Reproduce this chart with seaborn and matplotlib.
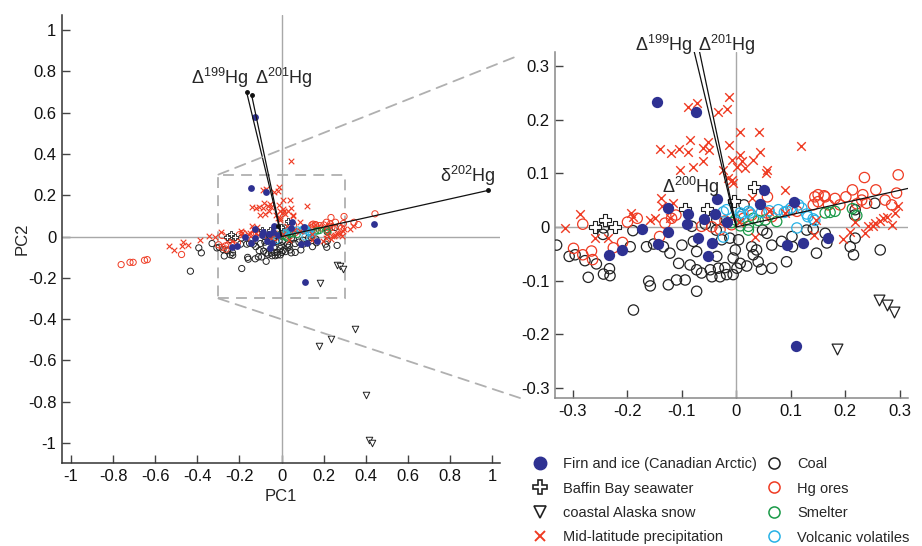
import numpy as np
import pandas as pd
import matplotlib
matplotlib.use('Agg')
import matplotlib.pyplot as plt
import seaborn as sns
from matplotlib.lines import Line2D
from matplotlib.patches import ConnectionPatch, Rectangle

sns.set_style('ticks')
plt.rcParams['font.family'] = ['Liberation Sans', 'DejaVu Sans']
plt.rcParams['mathtext.fontset'] = 'custom'
plt.rcParams['mathtext.rm'] = 'Liberation Sans'
plt.rcParams['mathtext.it'] = 'Liberation Sans'
plt.rcParams['mathtext.default'] = 'regular'

# ---------------- data ----------------
firn_x = [-0.146, -0.075, -0.125, -0.036, -0.088, -0.039, -0.059, -0.018, -0.091, -0.174, -0.125, -0.070,
          -0.045, -0.144, -0.210, -0.234, -0.053, 0.051, 0.043, 0.105, 0.092, 0.123, 0.169, 0.110, 0.440, -0.128]
firn_y = [0.233, 0.215, 0.035, 0.052, 0.024, 0.024, 0.014, 0.009, 0.005, -0.004, -0.009, -0.021,
          -0.030, -0.032, -0.044, -0.052, -0.054, 0.068, 0.043, 0.047, -0.034, -0.030, -0.021, -0.222, 0.062, 0.578]

baffin_x = [-0.259, -0.241, -0.223, -0.094, -0.054, -0.004, 0.032]
baffin_y = [-0.001, 0.013, -0.001, 0.034, 0.034, 0.048, 0.075]

alaska_x = [0.262, 0.276, 0.290, 0.185, 0.349, 0.234, 0.180, 0.400, 0.417, 0.428]
alaska_y = [-0.136, -0.145, -0.159, -0.227, -0.448, -0.497, -0.529, -0.767, -0.985, -1.001]

midlat_x = [-0.088, -0.072, -0.034, -0.017, -0.013, -0.140, -0.120, -0.105, -0.088, -0.085, -0.062, -0.053,
            -0.051, -0.013, -0.061, -0.079, -0.103, -0.009, -0.024, -0.015, -0.006, 0.007, 0.042, 0.119,
            0.043, 0.007, 0.010, 0.031, 0.016, 0.001, 0.056, 0.054, -0.009, 0.089, 0.028,
            -0.288, -0.259, -0.235, -0.194, -0.189, -0.158, -0.150, -0.139, -0.117, -0.122, -0.136,
            0.034, 0.143, 0.196, 0.209, 0.218, 0.236, 0.242, 0.254, 0.264, 0.270, 0.276, 0.285, 0.291,
            0.297, 0.251, 0.147, 0.005, 0.060, 0.090,
            -0.536, -0.512, -0.475, -0.469, -0.444, -0.385, -0.346, -0.314, 0.046, 0.326, 0.341]
midlat_y = [0.224, 0.230, 0.215, 0.219, 0.242, 0.145, 0.137, 0.145, 0.140, 0.162, 0.147, 0.159,
            0.143, 0.153, 0.122, 0.111, 0.106, 0.125, 0.106, 0.091, 0.081, 0.176, 0.176, 0.150,
            0.140, 0.134, 0.122, 0.124, 0.109, 0.112, 0.106, 0.100, 0.088, 0.069, 0.053,
            0.024, -0.020, -0.020, 0.025, 0.019, 0.012, 0.016, 0.053, 0.044, 0.016, 0.038,
            -0.018, -0.015, -0.022, -0.009, 0.010, -0.012, 0.001, 0.007, 0.011, 0.016, 0.019, 0.004, 0.026,
            0.038, 0.001, 0.013, 0.010, 0.030, 0.025,
            -0.047, -0.063, -0.047, -0.028, -0.039, -0.018, 0.001, -0.002, 0.366, 0.037, 0.050]

coal_x = [-0.296, -0.278, -0.257, -0.272, -0.244, -0.232, -0.233, -0.245, -0.244, -0.190, -0.195, -0.165,
          -0.152, -0.134, -0.122, -0.100, -0.079, -0.073, -0.106, -0.085, -0.073, -0.064, -0.045, -0.033,
          -0.030, -0.018, -0.021, -0.006, -0.094, -0.110, -0.125, -0.161, -0.158, -0.073, -0.189, -0.037,
          -0.036, -0.036, -0.027, -0.082, -0.057, -0.048,
          0.004, -0.012, -0.002, -0.006, 0.007, 0.019, 0.001, 0.028, 0.037, 0.031, 0.040, 0.046, 0.065,
          0.065, 0.048, 0.056, 0.083, 0.092, 0.102, 0.103, 0.129, 0.141, 0.147, 0.166, 0.163, 0.209,
          0.215, 0.218, 0.217, 0.218, 0.264, 0.254, 0.014,
          -0.433, -0.393, -0.381, -0.330, -0.307]
coal_y = [-0.052, -0.063, -0.069, -0.094, -0.088, -0.091, -0.078, -0.014, -0.002, -0.007, -0.037, -0.037,
          -0.032, -0.037, -0.049, -0.034, -0.027, -0.046, -0.068, -0.071, -0.080, -0.086, -0.093, -0.077,
          -0.093, -0.089, -0.076, -0.089, -0.099, -0.099, -0.108, -0.101, -0.110, -0.120, -0.155, -0.006,
          -0.055, 0.013, -0.024, 0.001, 0.005, -0.080,
          -0.024, -0.021, -0.043, -0.058, -0.068, -0.073, -0.077, -0.037, -0.043, -0.052, -0.065, -0.079, -0.077,
          -0.034, -0.006, -0.012, -0.027, -0.065, -0.018, -0.037, -0.006, -0.004, -0.049, -0.030, -0.012, -0.037,
          -0.052, -0.021, 0.022, 0.032, -0.043, 0.044, 0.041,
          -0.168, -0.055, -0.079, -0.034, -0.055]

hg_x = [-0.762, -0.720, -0.705, -0.651, -0.638, -0.475, 0.444, 0.365, 0.344,
        -0.282, -0.299, -0.282, -0.266, -0.264, -0.226, -0.209, -0.200, -0.182, -0.141, -0.119, -0.111,
        -0.131, -0.064, -0.021, -0.009, -0.030, -0.045,
        0.297, 0.235, 0.213, 0.256, 0.232, 0.201, 0.181, 0.163, 0.144, 0.057, 0.294, 0.285, 0.239,
        0.221, 0.190, 0.169, 0.150, 0.141, 0.150, 0.161, 0.273, 0.230, 0.102, 0.111, 0.028, 0.013,
        0.056, 0.065]
hg_y = [-0.136, -0.125, -0.125, -0.115, -0.112, -0.087, 0.110, 0.058, 0.069,
        0.005, -0.040, -0.052, -0.045, -0.061, -0.039, -0.029, 0.009, 0.016, -0.018, 0.016, 0.022,
        0.007, 0.001, 0.011, 0.004, -0.005, 0.000,
        0.097, 0.092, 0.069, 0.069, 0.060, 0.056, 0.053, 0.056, 0.056, 0.056, 0.063, 0.041, 0.044,
        0.043, 0.041, 0.041, 0.047, 0.041, 0.060, 0.058, 0.050, 0.050, 0.032, 0.029, 0.022, 0.016,
        0.026, 0.019]

smelter_x = [-0.009, -0.002, 0.007, 0.022, 0.022, 0.031, 0.040, 0.053, 0.074, 0.163, 0.172, 0.181, 0.213, 0.221]
smelter_y = [0.008, 0.013, 0.002, 0.001, -0.006, 0.016, 0.012, 0.013, 0.010, 0.026, 0.027, 0.029, 0.034, 0.021]

volc_x = [0.007, 0.022, 0.077, 0.092, 0.114, 0.120, 0.131, 0.141, 0.111, -0.024, -0.024, 0.007, 0.025,
          0.046, 0.088, 0.129, 0.144, 0.012, -0.018, 0.060, 0.100]
volc_y = [0.026, 0.029, 0.032, 0.029, 0.041, 0.035, 0.019, 0.015, -0.002, 0.028, -0.019, 0.019, 0.026,
          0.027, 0.027, 0.024, 0.012, 0.024, 0.032, 0.030, 0.035]

# loading vectors
vec_labels = [r'$\Delta^{199}$Hg', r'$\Delta^{201}$Hg', r'$\delta^{202}$Hg', r'$\Delta^{200}$Hg']
vec_x = [-0.166, -0.142, 0.98, -0.015]
vec_y = [0.70, 0.685, 0.223, 0.05]

groups = ['Firn and ice (Canadian Arctic)', 'Baffin Bay seawater', 'coastal Alaska snow',
          'Mid-latitude precipitation', 'Coal', 'Hg ores', 'Smelter', 'Volcanic volatiles']
xs = [firn_x, baffin_x, alaska_x, midlat_x, coal_x, hg_x, smelter_x, volc_x]
ys = [firn_y, baffin_y, alaska_y, midlat_y, coal_y, hg_y, smelter_y, volc_y]

df = pd.concat([pd.DataFrame({'PC1': x, 'PC2': y, 'group': g}) for g, x, y in zip(groups, xs, ys)],
               ignore_index=True)

BLUE = '#2e3192'
RED = '#ef3b23'
GREEN = '#1a9a48'
CYAN = '#27b2e6'
BLACK = '#222222'

styles = {
    'Coal': dict(marker='o', edge=BLACK, face='none', s=(20, 55), lw=(0.7, 0.9)),
    'Hg ores': dict(marker='o', edge=RED, face='none', s=(20, 55), lw=(0.7, 0.9)),
    'Smelter': dict(marker='o', edge=GREEN, face='none', s=(20, 55), lw=(0.7, 0.9)),
    'Volcanic volatiles': dict(marker='o', edge=CYAN, face='none', s=(20, 55), lw=(0.7, 0.9)),
    'Mid-latitude precipitation': dict(marker='x', edge=RED, face=None, s=(16, 38), lw=(0.8, 1.0)),
    'Baffin Bay seawater': dict(marker='P', edge=BLACK, face='white', s=(24, 70), lw=(0.6, 0.8)),
    'coastal Alaska snow': dict(marker='v', edge=BLACK, face='white', s=(22, 60), lw=(0.7, 0.9)),
    'Firn and ice (Canadian Arctic)': dict(marker='o', edge=BLUE, face=BLUE, s=(24, 66), lw=(0, 0)),
}
draw_order = ['Coal', 'Hg ores', 'Smelter', 'Volcanic volatiles', 'Mid-latitude precipitation',
              'Baffin Bay seawater', 'coastal Alaska snow', 'Firn and ice (Canadian Arctic)']

fig = plt.figure(figsize=(9.22, 5.46), dpi=100)
W, H = 922, 546
axL = fig.add_axes([62 / W, 1 - 463 / H, 438 / W, 448 / H])
axR = fig.add_axes([555 / W, 1 - 398 / H, 353 / W, 346 / H])


def draw_points(ax, k):
    for g in draw_order:
        st = styles[g]
        d = df[df.group == g]
        if st['marker'] == 'x':
            sns.scatterplot(data=d, x='PC1', y='PC2', ax=ax, marker='x', s=st['s'][k], color=st['edge'],
                            linewidth=st['lw'][k], legend=False, zorder=3)
        else:
            sns.scatterplot(data=d, x='PC1', y='PC2', ax=ax, marker=st['marker'], s=st['s'][k],
                            facecolor=st['face'], edgecolor=st['edge'], linewidth=st['lw'][k],
                            legend=False, zorder=3)


for ax, k in [(axL, 0), (axR, 1)]:
    ax.axhline(0, color='#a8a8a8', lw=1.0, zorder=1)
    ax.axvline(0, color='#a8a8a8', lw=1.0, zorder=1)
    draw_points(ax, k)
    for vx, vy in zip(vec_x, vec_y):
        ax.plot([0, vx], [0, vy], color='#111111', lw=0.9, zorder=4)
    sns.despine(ax=ax)
    ax.set_xlabel('')
    ax.set_ylabel('')
    ax.tick_params(direction='in', length=6, width=1, colors='#444444', labelcolor='#111111',
                   labelsize=12, pad=4)

# left panel
axL.plot(vec_x, vec_y, 'o', color='#111111', ms=2.5, zorder=4)
axL.set_xlim(-1.043, 1.038)
axL.set_ylim(-1.097, 1.073)
lticks = [-1, -0.8, -0.6, -0.4, -0.2, 0, 0.2, 0.4, 0.6, 0.8, 1]
lticklabels = ['-1', '-0.8', '-0.6', '-0.4', '-0.2', '0', '0.2', '0.4', '0.6', '0.8', '1']
axL.set_xticks(lticks)
axL.set_xticklabels(lticklabels)
axL.set_yticks(lticks)
axL.set_yticklabels(lticklabels)
axL.set_xlabel('PC1', fontsize=12, labelpad=4)
axL.set_ylabel('PC2', fontsize=12, labelpad=-1)
for sp in ['left', 'bottom']:
    axL.spines[sp].set_color('#333333')
    axL.spines[sp].set_linewidth(1.1)

axL.add_patch(Rectangle((-0.3, -0.3), 0.6, 0.6, fill=False, ls=(0, (6, 4)), ec='#b0b0b0', lw=1.3, zorder=2))
lab_pos_L = [(-0.295, 0.77), (0.012, 0.77), (0.884, 0.295)]
for (lx, ly), lab in zip(lab_pos_L, vec_labels[:3]):
    axL.text(lx, ly, lab, ha='center', va='center', fontsize=13)

# right panel
axR.set_xlim(-0.333, 0.315)
axR.set_ylim(-0.319, 0.326)
rticks = [-0.3, -0.2, -0.1, 0, 0.1, 0.2, 0.3]
rticklabels = ['-0.3', '-0.2', '-0.1', '0', '0.1', '0.2', '0.3']
axR.set_xticks(rticks)
axR.set_xticklabels(rticklabels)
axR.set_yticks(rticks)
axR.set_yticklabels(rticklabels)
for sp in ['left', 'bottom']:
    axR.spines[sp].set_color('#888888')
    axR.spines[sp].set_linewidth(1.1)
lab_pos_R = [(-0.134, 0.339), (-0.018, 0.339), None, (-0.084, 0.075)]
for pos, lab in zip(lab_pos_R, vec_labels):
    if pos is not None:
        axR.text(pos[0], pos[1], lab, ha='center', va='center', fontsize=13, zorder=5)

# connecting dashed lines
for yA, yB in [(0.3, 55), (-0.3, 398)]:
    con = ConnectionPatch(xyA=(-0.3, yA), coordsA=axL.transData,
                          xyB=(520 / W, 1 - yB / H), coordsB='figure fraction',
                          ls=(0, (6, 4)), color='#b0b0b0', lw=1.3)
    fig.add_artist(con)

# legend
handles = [
    Line2D([], [], ls='', marker='o', ms=9, mfc=BLUE, mec=BLUE),
    Line2D([], [], ls='', marker='P', ms=10, mfc='white', mec=BLACK, mew=1.2),
    Line2D([], [], ls='', marker='v', ms=9, mfc='white', mec=BLACK, mew=1.2),
    Line2D([], [], ls='', marker='x', ms=7, color=RED, mew=1.4),
    Line2D([], [], ls='', marker='o', ms=8, mfc='none', mec=BLACK, mew=1.1),
    Line2D([], [], ls='', marker='o', ms=8, mfc='none', mec=RED, mew=1.1),
    Line2D([], [], ls='', marker='o', ms=8, mfc='none', mec=GREEN, mew=1.1),
    Line2D([], [], ls='', marker='o', ms=8, mfc='none', mec=CYAN, mew=1.1),
]
fig.legend(handles, groups, loc='upper left', bbox_to_anchor=(531 / W, 1 - 457 / H), ncol=2,
           frameon=False, fontsize=10.5, handlelength=1.2, handletextpad=1.0, columnspacing=0.55,
           labelspacing=0.72, borderaxespad=0, borderpad=0)

fig.savefig('out.png', dpi=100)
